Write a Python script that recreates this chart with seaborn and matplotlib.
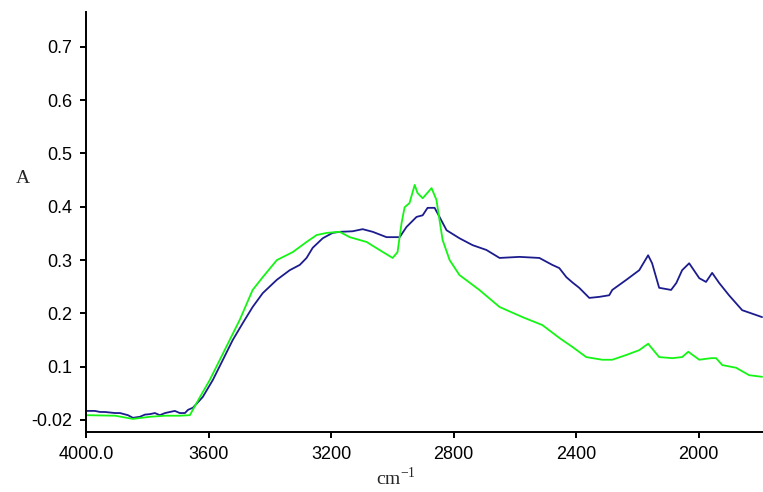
import numpy as np
import pandas as pd
import seaborn as sns
import matplotlib
matplotlib.use("Agg")
import matplotlib.pyplot as plt

# espectro 1 (azul)
wn_azul = [4000, 3971, 3954, 3938, 3905, 3889, 3863, 3847, 3824, 3808, 3791, 3775, 3759, 3742,
           3726, 3710, 3694, 3677, 3667, 3651, 3619, 3586, 3553, 3521, 3488, 3456,
           3423, 3377, 3335, 3302, 3280, 3260, 3227, 3195, 3172, 3130, 3097, 3064, 3019, 2976,
           2954, 2921, 2901, 2885, 2862, 2846, 2823, 2781, 2738, 2693, 2650, 2585, 2520, 2478,
           2455, 2432, 2412, 2390, 2357, 2324, 2292, 2282, 2236, 2194, 2165, 2152, 2129, 2090,
           2073, 2054, 2031, 1998, 1976, 1956, 1933, 1901, 1858, 1793]
abs_azul = [0.017, 0.017, 0.015, 0.015, 0.013, 0.013, 0.009, 0.004, 0.006, 0.010, 0.011, 0.013, 0.009, 0.013,
            0.015, 0.017, 0.013, 0.013, 0.019, 0.023, 0.043, 0.075, 0.113, 0.150, 0.182, 0.212,
            0.238, 0.263, 0.281, 0.291, 0.304, 0.323, 0.341, 0.351, 0.353, 0.354, 0.358, 0.353, 0.343, 0.343,
            0.362, 0.381, 0.384, 0.398, 0.398, 0.381, 0.356, 0.341, 0.328, 0.319, 0.304, 0.306, 0.304, 0.291,
            0.285, 0.268, 0.258, 0.248, 0.229, 0.231, 0.234, 0.244, 0.263, 0.281, 0.309, 0.294, 0.248, 0.244,
            0.257, 0.281, 0.294, 0.266, 0.259, 0.276, 0.257, 0.234, 0.206, 0.193]

# espectro 2 (verde)
wn_verde = [4000, 3905, 3847, 3791, 3742, 3694, 3661, 3628, 3596, 3563, 3531, 3498, 3456, 3423,
            3377, 3325, 3280, 3247, 3214, 3172, 3139, 3084, 3042, 2999, 2983, 2970, 2960, 2944,
            2927, 2918, 2901, 2872, 2856, 2846, 2836, 2813, 2781, 2716, 2650, 2575, 2510, 2455,
            2412, 2367, 2315, 2282, 2236, 2194, 2165, 2129, 2086, 2054, 2034, 1998, 1959, 1943,
            1923, 1878, 1835, 1793]
abs_verde = [0.009, 0.008, 0.002, 0.006, 0.008, 0.008, 0.009, 0.043, 0.075, 0.113, 0.150, 0.188, 0.244, 0.268,
             0.300, 0.315, 0.334, 0.347, 0.351, 0.353, 0.343, 0.334, 0.319, 0.304, 0.315, 0.369, 0.399, 0.407,
             0.441, 0.426, 0.416, 0.435, 0.413, 0.375, 0.338, 0.300, 0.272, 0.244, 0.212, 0.193, 0.178, 0.154,
             0.137, 0.118, 0.113, 0.113, 0.122, 0.131, 0.143, 0.118, 0.116, 0.118, 0.128, 0.113, 0.116, 0.116,
             0.103, 0.098, 0.084, 0.081]

yticks = [0.0, 0.1, 0.2, 0.3, 0.4, 0.5, 0.6, 0.7]
ytick_labels = ["-0.02", "0.1", "0.2", "0.3", "0.4", "0.5", "0.6", "0.7"]
xticks = [4000, 3600, 3200, 2800, 2400, 2000]
xtick_labels = ["4000.0", "3600", "3200", "2800", "2400", "2000"]

df = pd.concat([
    pd.DataFrame({"cm": wn_azul, "A": abs_azul, "amostra": "azul"}),
    pd.DataFrame({"cm": wn_verde, "A": abs_verde, "amostra": "verde"}),
])

sns.set_style("ticks")
plt.rcParams["mathtext.fontset"] = "custom"
plt.rcParams["mathtext.rm"] = "Liberation Serif"

fig = plt.figure(figsize=(7.63, 4.92), dpi=100)
ax = fig.add_axes([86 / 763, (492 - 431.7) / 492, 677 / 763, 420 / 492])

sns.lineplot(data=df, x="cm", y="A", hue="amostra", estimator=None,
             palette={"azul": "#1c1c8e", "verde": "#14f514"},
             linewidth=1.3, legend=False, ax=ax)

ax.set_xlim(4000, 1790)
ax.set_ylim(-0.022, 0.766)
ax.set_xticks(xticks)
ax.set_xticklabels(xtick_labels)
ax.set_yticks(yticks)
ax.set_yticklabels(ytick_labels)
sns.despine(ax=ax)
for s in ["left", "bottom"]:
    ax.spines[s].set_linewidth(1.4)
    ax.spines[s].set_color("black")
ax.tick_params(axis="both", length=4, width=1.4, color="black",
               labelsize=13, labelcolor="black", pad=6)
for lab in ax.get_xticklabels() + ax.get_yticklabels():
    lab.set_fontfamily("Liberation Sans")

ax.set_ylabel("A", rotation=0, fontsize=14, family="Liberation Serif", va="center", ha="center")
ax.yaxis.set_label_coords(-0.0935, 0.604)
ax.set_xlabel("cm$^{-1}$", fontsize=14, family="Liberation Serif", va="center")
ax.xaxis.set_label_coords(0.458, -0.11)

fig.savefig("out.png", dpi=100)
